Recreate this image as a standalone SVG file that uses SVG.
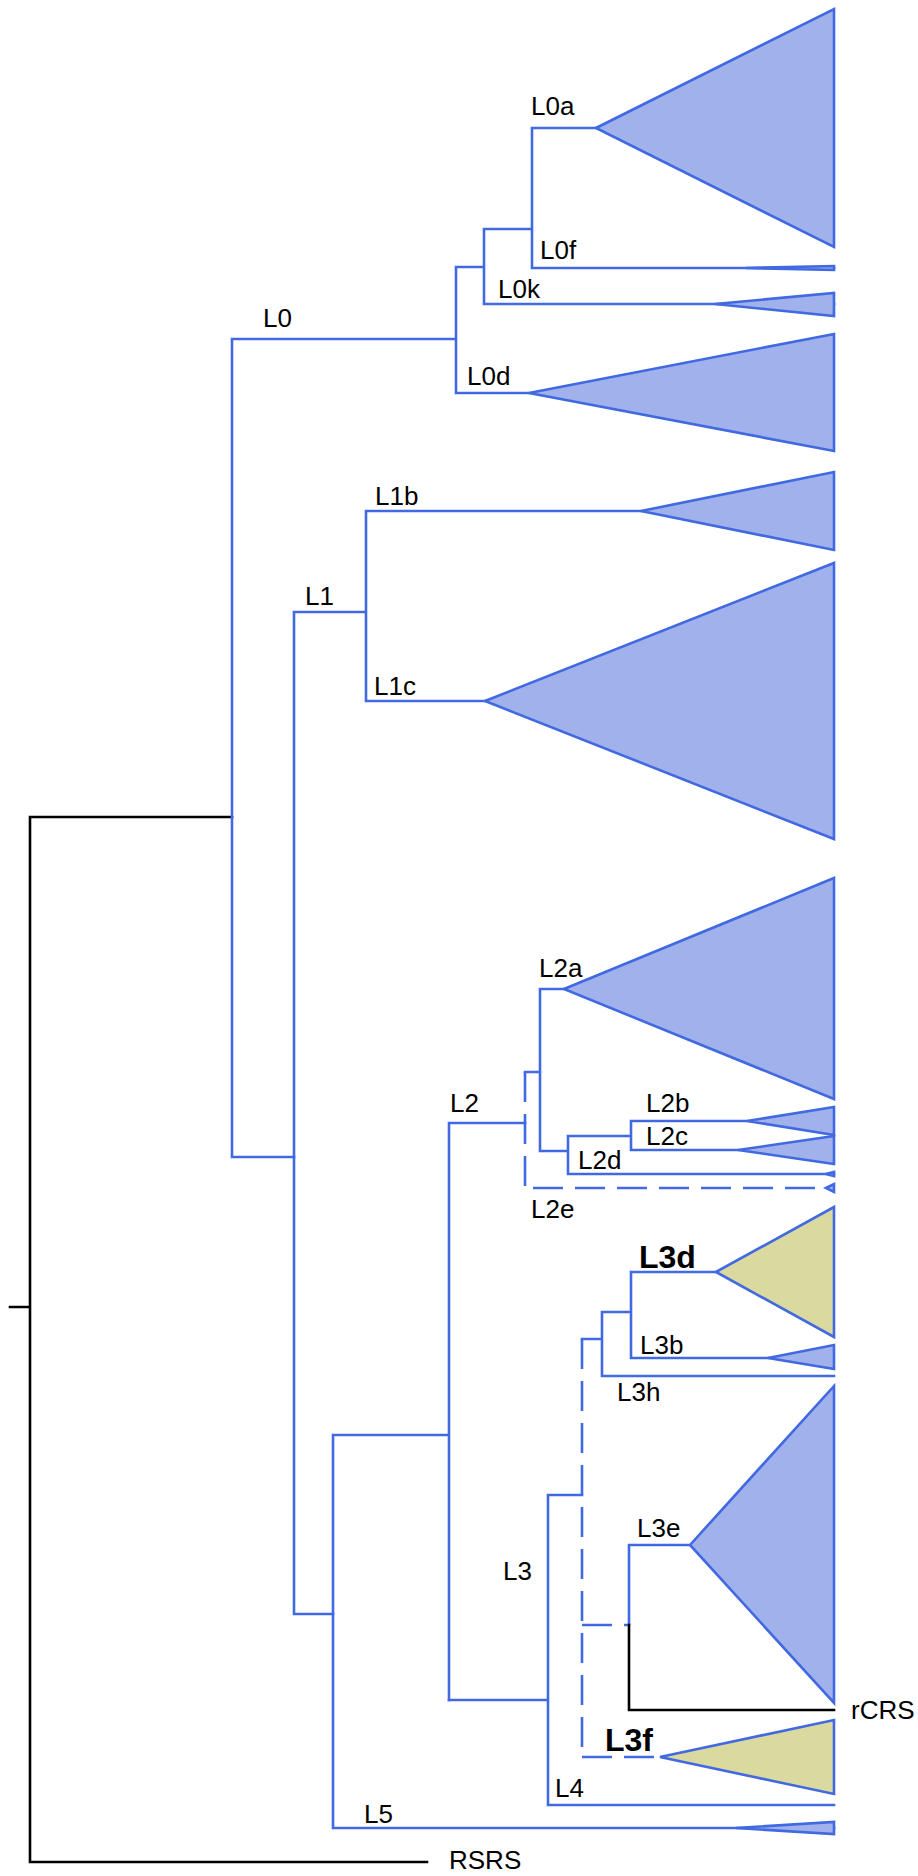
<svg xmlns="http://www.w3.org/2000/svg" width="918" height="1876" viewBox="0 0 918 1876">
<style>
.b{fill:none;stroke:#4169e1;stroke-width:2.6;stroke-linecap:square}
.d{fill:none;stroke:#4169e1;stroke-width:2.6;stroke-dasharray:30 12}
.k{fill:none;stroke:#000;stroke-width:2.6;stroke-linecap:square}
.t{fill:#a0b1eb;stroke:#4169e1;stroke-width:2.6;stroke-linejoin:miter}
.y{fill:#dad9a0;stroke:#4169e1;stroke-width:2.6;stroke-linejoin:miter}
text{font-family:"Liberation Sans",Arial,sans-serif;font-size:26px;fill:#000}
text.bold{font-weight:bold;font-size:32px}
</style>
<rect width="918" height="1876" fill="#fff"/>
<g id="connectors">
<path class="k" d="M30,817 V1862 H427 M30,817 H232 M10,1307 H30"/>
<path class="b" d="M232,339 V1157 H294 M232,339 H456 M456,267 V393 M456,267 H484 M484,229 V304 H834 M484,229 H532 M532,128 V268 H834 M532,128 H596 M456,393 H529"/>
<path class="b" d="M294,612 V1614 H333 M294,612 H366 M366,511 V701 M366,511 H641 M366,701 H485"/>
<path class="b" d="M333,1435 V1828 H834 M333,1435 H449 M449,1123 V1700 M449,1123 H525"/>
<path class="d" d="M525,1072 V1188"/>
<path class="b" d="M525,1072 H540 M540,989 V1151 M540,989 H564 M540,1151 H568 M568,1136 V1174 H834 M568,1136 H631 M631,1121 V1150 M631,1121 H747 M631,1150 H738"/>
<path class="d" d="M533,1188 H834"/>
<path class="b" d="M449,1700 H548 M548,1495 V1805 H834 M548,1495 H582"/>
<path class="d" d="M582,1339 V1757"/>
<path class="b" d="M582,1339 H602 M602,1312 V1376 H834 M602,1312 H631 M631,1272 V1358 M631,1272 H716 M631,1358 H768 M629,1545 V1625 M629,1545 H690"/>
<path class="d" d="M582,1625 H629 M582,1757 H660"/>
<path class="k" d="M629,1625 V1710 H834"/>
</g>
<g id="L0"><text x="263" y="327">L0</text></g>
<g id="L0a"><polygon class="t" points="596,128 834,9 834,247"/><text x="531" y="115">L0a</text></g>
<g id="L0f"><polygon class="t" points="746,268 834,266 834,270"/><text x="540" y="259">L0f</text></g>
<g id="L0k"><polygon class="t" points="715,304 834,293 834,316"/><text x="498" y="298">L0k</text></g>
<g id="L0d"><polygon class="t" points="529,393 834,334 834,451"/><text x="467" y="385">L0d</text></g>
<g id="L1"><text x="305" y="605">L1</text></g>
<g id="L1b"><polygon class="t" points="641,511 834,472 834,550"/><text x="375" y="505">L1b</text></g>
<g id="L1c"><polygon class="t" points="485,701 834,563 834,839"/><text x="374" y="695">L1c</text></g>
<g id="L2"><text x="450" y="1112">L2</text></g>
<g id="L2a"><polygon class="t" points="564,989 834,878 834,1099"/><text x="539" y="977">L2a</text></g>
<g id="L2b"><polygon class="t" points="747,1121 834,1107 834,1135"/><text x="646" y="1112">L2b</text></g>
<g id="L2c"><polygon class="t" points="738,1150 834,1136 834,1164"/><text x="646" y="1145">L2c</text></g>
<g id="L2d"><polygon class="t" points="826,1174 834,1172 834,1176"/><text x="578" y="1169">L2d</text></g>
<g id="L2e"><polygon class="t" points="826,1188 834,1184 834,1192"/><text x="531" y="1218">L2e</text></g>
<g id="L3"><text x="503" y="1580">L3</text></g>
<g id="L3d"><polygon class="y" points="716,1272 834,1207 834,1337"/><text class="bold" x="639" y="1268">L3d</text></g>
<g id="L3b"><polygon class="t" points="768,1358 834,1345 834,1369"/><text x="640" y="1354">L3b</text></g>
<g id="L3h"><text x="617" y="1401">L3h</text></g>
<g id="L3e"><polygon class="t" points="690,1545 834,1386 834,1703"/><text x="637" y="1537">L3e</text></g>
<g id="rCRS"><text x="851" y="1719">rCRS</text></g>
<g id="L3f"><polygon class="y" points="660,1757 834,1720 834,1794"/><text class="bold" x="605" y="1751">L3f</text></g>
<g id="L4"><text x="555" y="1797">L4</text></g>
<g id="L5"><polygon class="t" points="736,1828 834,1822 834,1834"/><text x="364" y="1823">L5</text></g>
<g id="RSRS"><text x="449" y="1869">RSRS</text></g>
</svg>
